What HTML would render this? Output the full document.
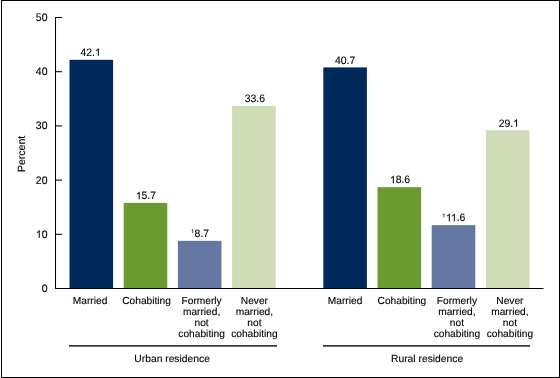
<!DOCTYPE html>
<html><head><meta charset="utf-8"><style>
html,body{margin:0;padding:0;background:#fff;width:560px;height:378px;overflow:hidden}
svg{display:block;will-change:transform}
text{font-family:"Liberation Sans",sans-serif;fill:#000;font-size:10.2px;text-rendering:geometricPrecision;stroke:#000;stroke-width:0.12px}
text .h{fill:transparent;stroke:none}
</style></head><body>
<svg width="560" height="378" viewBox="0 0 560 378">
<rect x="1.5" y="0.5" width="558" height="377" fill="none" stroke="#000" stroke-width="1"/>
<line x1="55.5" y1="17" x2="55.5" y2="288.5" stroke="#000" stroke-width="1.05"/>
<line x1="55" y1="288.5" x2="543.4" y2="288.5" stroke="#000" stroke-width="1.05"/>
<line x1="55" y1="234.30" x2="62" y2="234.30" stroke="#000" stroke-width="1.05"/>
<line x1="55" y1="180.10" x2="62" y2="180.10" stroke="#000" stroke-width="1.05"/>
<line x1="55" y1="125.90" x2="62" y2="125.90" stroke="#000" stroke-width="1.05"/>
<line x1="55" y1="71.70" x2="62" y2="71.70" stroke="#000" stroke-width="1.05"/>
<line x1="55" y1="17.50" x2="62" y2="17.50" stroke="#000" stroke-width="1.05"/>
<g transform="translate(47.5,292.00) scale(1,1.04)"><text text-anchor="end" style="font-size:10.5px">0</text></g>
<g transform="translate(47.5,237.80) scale(1,1.04)"><text text-anchor="end" style="font-size:10.5px"><tspan class="h">1</tspan>0</text><path d="M-7.776,0.000 L-8.698,0.000 L-8.698,-5.652 Q-9.032,-5.346 -9.575,-5.041 Q-10.119,-4.735 -10.544,-4.583 L-10.544,-5.440 Q-9.775,-5.790 -9.196,-6.288 Q-8.616,-6.785 -8.375,-7.224 L-7.776,-7.224 Z" fill="#000" stroke="#000" stroke-width="0.12"/></g>
<g transform="translate(47.5,183.60) scale(1,1.04)"><text text-anchor="end" style="font-size:10.5px">20</text></g>
<g transform="translate(47.5,129.40) scale(1,1.04)"><text text-anchor="end" style="font-size:10.5px">30</text></g>
<g transform="translate(47.5,75.20) scale(1,1.04)"><text text-anchor="end" style="font-size:10.5px">40</text></g>
<g transform="translate(47.5,21.00) scale(1,1.04)"><text text-anchor="end" style="font-size:10.5px">50</text></g>
<rect x="69.50" y="59.82" width="43.6" height="228.18" fill="#002a5b"/>
<g transform="translate(90.60,55.82) scale(1,1.04)"><text text-anchor="middle" style="font-size:10.4px">42.<tspan class="h">1</tspan></text><path d="M8.211,0.000 L7.296,0.000 L7.296,-5.598 Q6.966,-5.296 6.428,-4.993 Q5.890,-4.690 5.468,-4.539 L5.468,-5.388 Q6.230,-5.735 6.804,-6.228 Q7.378,-6.721 7.616,-7.155 L8.211,-7.155 Z" fill="#000" stroke="#000" stroke-width="0.12"/></g>
<text x="90.10" y="304.10" text-anchor="middle">Married</text>
<rect x="123.70" y="202.91" width="43.6" height="85.09" fill="#6b9b30"/>
<g transform="translate(145.90,199.21) scale(1,1.04)"><text text-anchor="middle" style="font-size:10.4px"><tspan class="h">1</tspan>5.7</text><path d="M-6.243,0.000 L-7.157,0.000 L-7.157,-5.598 Q-7.487,-5.296 -8.025,-4.993 Q-8.563,-4.690 -8.985,-4.539 L-8.985,-5.388 Q-8.223,-5.735 -7.649,-6.228 Q-7.075,-6.721 -6.837,-7.155 L-6.243,-7.155 Z" fill="#000" stroke="#000" stroke-width="0.12"/></g>
<text x="146.60" y="304.10" text-anchor="middle">Cohabiting</text>
<rect x="177.90" y="240.85" width="43.6" height="47.15" fill="#6478a2"/>
<g transform="translate(200.00,236.85) scale(1,1.04)"><text text-anchor="middle" style="font-size:10.4px"><tspan style="font-size:5.5px" dy="-3.6" class="h">1</tspan><tspan dx="0.6" dy="3.6">8.7</tspan></text><path d="M-7.009,-3.600 L-7.492,-3.600 L-7.492,-6.561 Q-7.667,-6.401 -7.951,-6.240 Q-8.236,-6.080 -8.459,-6.000 L-8.459,-6.450 Q-8.056,-6.633 -7.753,-6.894 Q-7.449,-7.154 -7.323,-7.384 L-7.009,-7.384 Z" fill="#000" stroke="#000" stroke-width="0.12"/></g>
<text x="201.60" y="304.10" text-anchor="middle">Formerly</text>
<text x="201.60" y="314.90" text-anchor="middle">married,</text>
<text x="201.60" y="325.70" text-anchor="middle">not</text>
<text x="201.60" y="336.50" text-anchor="middle">cohabiting</text>
<rect x="232.10" y="105.89" width="43.6" height="182.11" fill="#cfdcb5"/>
<g transform="translate(254.80,101.89) scale(1,1.04)"><text text-anchor="middle" style="font-size:10.4px">33.6</text></g>
<text x="254.40" y="304.10" text-anchor="middle">Never</text>
<text x="254.40" y="314.90" text-anchor="middle">married,</text>
<text x="254.40" y="325.70" text-anchor="middle">not</text>
<text x="254.40" y="336.50" text-anchor="middle">cohabiting</text>
<rect x="323.30" y="67.41" width="43.6" height="220.59" fill="#002a5b"/>
<g transform="translate(345.10,63.91) scale(1,1.04)"><text text-anchor="middle" style="font-size:10.4px">40.7</text></g>
<text x="345.10" y="304.10" text-anchor="middle">Married</text>
<rect x="377.50" y="187.19" width="43.6" height="100.81" fill="#6b9b30"/>
<g transform="translate(400.00,183.19) scale(1,1.04)"><text text-anchor="middle" style="font-size:10.4px"><tspan class="h">1</tspan>8.6</text><path d="M-6.243,0.000 L-7.157,0.000 L-7.157,-5.598 Q-7.487,-5.296 -8.025,-4.993 Q-8.563,-4.690 -8.985,-4.539 L-8.985,-5.388 Q-8.223,-5.735 -7.649,-6.228 Q-7.075,-6.721 -6.837,-7.155 L-6.243,-7.155 Z" fill="#000" stroke="#000" stroke-width="0.12"/></g>
<text x="401.90" y="304.10" text-anchor="middle">Cohabiting</text>
<rect x="431.70" y="225.13" width="43.6" height="62.87" fill="#6478a2"/>
<g transform="translate(453.80,221.13) scale(1,1.04)"><text text-anchor="middle" style="font-size:10.4px"><tspan style="font-size:5.5px" dy="-3.6" class="h">1</tspan><tspan dx="0.6" dy="3.6"><tspan class="h">1</tspan><tspan class="h">1</tspan>.6</tspan></text><path d="M-9.517,-3.600 L-10.000,-3.600 L-10.000,-6.561 Q-10.175,-6.401 -10.459,-6.240 Q-10.744,-6.080 -10.967,-6.000 L-10.967,-6.450 Q-10.564,-6.633 -10.260,-6.894 Q-9.957,-7.154 -9.831,-7.384 L-9.517,-7.384 Z" fill="#000" stroke="#000" stroke-width="0.12"/><path d="M-4.029,0.000 L-4.943,0.000 L-4.943,-5.598 Q-5.273,-5.296 -5.811,-4.993 Q-6.349,-4.690 -6.771,-4.539 L-6.771,-5.388 Q-6.009,-5.735 -5.435,-6.228 Q-4.861,-6.721 -4.623,-7.155 L-4.029,-7.155 Z" fill="#000" stroke="#000" stroke-width="0.12"/><path d="M0.987,0.000 L0.073,0.000 L0.073,-5.598 Q-0.257,-5.296 -0.795,-4.993 Q-1.334,-4.690 -1.755,-4.539 L-1.755,-5.388 Q-0.993,-5.735 -0.420,-6.228 Q0.154,-6.721 0.393,-7.155 L0.987,-7.155 Z" fill="#000" stroke="#000" stroke-width="0.12"/></g>
<text x="456.90" y="304.10" text-anchor="middle">Formerly</text>
<text x="456.90" y="314.90" text-anchor="middle">married,</text>
<text x="456.90" y="325.70" text-anchor="middle">not</text>
<text x="456.90" y="336.50" text-anchor="middle">cohabiting</text>
<rect x="485.90" y="130.28" width="43.6" height="157.72" fill="#cfdcb5"/>
<g transform="translate(508.80,126.78) scale(1,1.04)"><text text-anchor="middle" style="font-size:10.4px">29.<tspan class="h">1</tspan></text><path d="M8.211,0.000 L7.296,0.000 L7.296,-5.598 Q6.966,-5.296 6.428,-4.993 Q5.890,-4.690 5.468,-4.539 L5.468,-5.388 Q6.230,-5.735 6.804,-6.228 Q7.378,-6.721 7.616,-7.155 L8.211,-7.155 Z" fill="#000" stroke="#000" stroke-width="0.12"/></g>
<text x="509.90" y="304.10" text-anchor="middle">Never</text>
<text x="509.90" y="314.90" text-anchor="middle">married,</text>
<text x="509.90" y="325.70" text-anchor="middle">not</text>
<text x="509.90" y="336.50" text-anchor="middle">cohabiting</text>
<line x1="69" y1="345.9" x2="277" y2="345.9" stroke="#3c3c3c" stroke-width="1.6"/>
<line x1="323" y1="345.9" x2="530" y2="345.9" stroke="#3c3c3c" stroke-width="1.6"/>
<text x="172.1" y="362" text-anchor="middle" style="font-size:10.3px">Urban residence</text>
<text x="427.1" y="362" text-anchor="middle" style="font-size:10.3px">Rural residence</text>
<text transform="translate(24.7,153.9) rotate(-90)" x="0" y="0" text-anchor="middle" style="font-size:10.5px">Percent</text>
</svg>
</body></html>
